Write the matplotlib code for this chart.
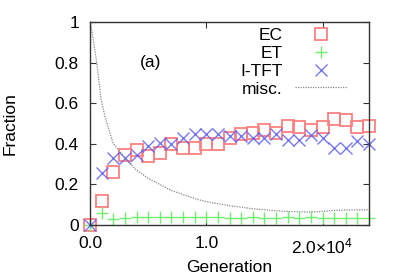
import matplotlib
matplotlib.use("Agg")
import matplotlib.pyplot as plt

plt.rcParams['font.family'] = ['Liberation Sans', 'DejaVu Sans']
plt.rcParams['mathtext.fontset'] = 'custom'
plt.rcParams['mathtext.rm'] = 'Liberation Sans'
plt.rcParams['mathtext.it'] = 'Liberation Sans'

gen = [0, 1000, 2000, 3000, 4000, 5000, 6000, 7000, 8000, 9000, 10000, 11000,
       12000, 13000, 14000, 15000, 16000, 17000, 18000, 19000, 20000, 21000,
       22000, 23000, 24000]
ec = [0, 0.12, 0.26, 0.345, 0.37, 0.34, 0.356, 0.40, 0.38, 0.38, 0.40, 0.40,
      0.43, 0.45, 0.455, 0.47, 0.455, 0.49, 0.485, 0.47, 0.485, 0.52, 0.515,
      0.485, 0.49]
et = [0, 0.057, 0.028, 0.033, 0.038, 0.038, 0.038, 0.038, 0.04, 0.038, 0.038,
      0.038, 0.033, 0.035, 0.038, 0.033, 0.035, 0.038, 0.033, 0.038, 0.033,
      0.033, 0.035, 0.033, 0.035]
itft = [0, 0.255, 0.33, 0.33, 0.345, 0.39, 0.405, 0.40, 0.43, 0.45, 0.45, 0.45,
        0.44, 0.44, 0.43, 0.43, 0.45, 0.42, 0.42, 0.445, 0.43, 0.38, 0.38,
        0.415, 0.40]
misc_gen = [0, 150, 580, 950, 1300, 2000, 2600, 3000, 4000, 5000, 6000, 7000,
            8000, 9000, 10000, 11000, 12000, 13000, 14000, 15000, 16000, 17000,
            18000, 19000, 20000, 21000, 22000, 23000, 24000]
misc = [1.0, 0.96, 0.80, 0.62, 0.53, 0.40, 0.36, 0.33, 0.27, 0.23, 0.20, 0.17,
        0.15, 0.13, 0.115, 0.105, 0.095, 0.088, 0.08, 0.075, 0.07, 0.067,
        0.065, 0.064, 0.067, 0.072, 0.074, 0.074, 0.075]

xticks = [0, 10000, 20000]
xticklabels = ['0.0', '1.0', '2.0×10$^{4}$']
yticks = [0, 0.2, 0.4, 0.6, 0.8, 1.0]
yticklabels = ['0', '0.2', '0.4', '0.6', '0.8', '1']

fs = 12.5
fig = plt.figure(figsize=(3.99, 2.79), dpi=100)
ax = fig.add_axes([90/399, 1-225/279, 279/399, 203/279])

ax.plot(gen, ec, linestyle='none', marker='s', markersize=8.3, markerfacecolor='none',
        markeredgecolor='#ff8080', markeredgewidth=1.3, clip_on=False, label='EC')
ax.plot(gen, et, linestyle='none', marker='+', markersize=9,
        markeredgecolor='#70ee70', markeredgewidth=1.0, clip_on=False, label='ET')
ax.plot(gen, itft, linestyle='none', marker='x', markersize=8,
        markeredgecolor='#6060f0', markeredgewidth=1.0, alpha=0.85, clip_on=False, label='I-TFT')
ax.plot(misc_gen, misc, linestyle=(0, (1, 1)), color='#888888', linewidth=0.9, label='misc.')

ax.set_xlim(0, 24000)
ax.set_ylim(0, 1)
ax.set_xticks(xticks)
ax.set_xticklabels(xticklabels)
ax.set_yticks(yticks)
ax.set_yticklabels(yticklabels)
ax.tick_params(direction='in', length=4, width=0.8, labelsize=fs, pad=8,
               top=True, right=True, color='#333333')
for s in ax.spines.values():
    s.set_linewidth(1.0)
    s.set_color('#333333')

ax.set_xlabel('Generation', fontsize=fs)
ax.set_ylabel('Fraction', fontsize=fs)
ax.xaxis.set_label_coords(0.5, -0.17)
ax.yaxis.set_label_coords(-0.258, 0.5)

ax.text(5200, 0.8, '(a)', fontsize=fs, ha='center', va='center')

leg = ax.legend(loc='upper right', bbox_to_anchor=(0.921, 0.97), frameon=False,
                markerfirst=False, fontsize=fs, handlelength=3.0, handletextpad=0.7,
                labelspacing=0.15, borderaxespad=0, borderpad=0)
vp = leg._legend_box._children[-1]._children[0]
vp.align = 'right'

fig.savefig('out.png', dpi=100)
